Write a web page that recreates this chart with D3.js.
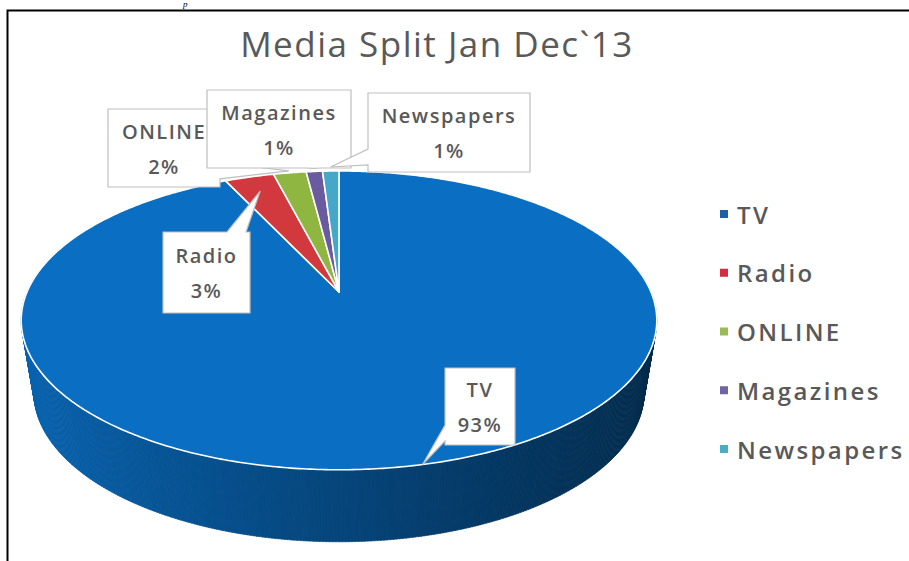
<!DOCTYPE html>
<html>
<head>
<meta charset="utf-8">
<script src="https://cdn.jsdelivr.net/npm/d3@7"></script>
<style>
  body { margin: 0; background: #fff; }
  text { font-family: "Open Sans", "DejaVu Sans", sans-serif; fill: #595959; }
</style>
</head>
<body>
<div id="chart"></div>
<script>
// data
var categories = ["TV", "Radio", "ONLINE", "Magazines", "Newspapers"];
var shares = [93, 3, 2, 1, 1];
var sliceColors = ["#0a6ec2", "#d2393f", "#8fb640", "#6a5b9f", "#45a8c9"];
var legendColors = ["#1c5fa6", "#cf2f40", "#9bbb59", "#7064a4", "#4aacc6"];
var chartTitle = "Media Split Jan Dec`13";

var width = 909, height = 561;

var svg = d3.select("#chart").append("svg")
  .attr("width", width)
  .attr("height", height);

// frame from the page the chart was cut out of
svg.append("text")
  .attr("x", 183).attr("y", 7)
  .style("font-family", "Liberation Serif, serif")
  .style("font-style", "italic")
  .style("font-size", "9px")
  .style("fill", "#000")
  .text("p");
svg.append("path")
  .attr("d", "M7.5,561 V10.5 H909")
  .attr("fill", "none")
  .attr("stroke", "#000")
  .attr("stroke-width", 2);

// title
svg.append("text")
  .attr("x", 437).attr("y", 57)
  .attr("text-anchor", "middle")
  .style("font-size", "35px")
  .style("font-weight", 500)
  .style("letter-spacing", "1.5px")
  .text(chartTitle);

// 3d pie with a bit of perspective
var cx = 339, cy = 292, A = 312, B = 144, k = 0.19;
var wall = 72, shrink = 0.96;

function pt(a, r) {
  var z = r * Math.cos(a), w = 1 + k * z;
  return [cx + A * r * Math.sin(a) / w, cy - B * z / w];
}
function low(a) {
  var p = pt(a, 1);
  return [cx + (p[0] - cx) * shrink, p[1] + wall];
}

var pie = d3.pie().sort(null).value(d => d)(shares);
var line = d3.line();

function sliceAt(a) {
  a = (a + 2 * Math.PI) % (2 * Math.PI);
  for (var i = 0; i < pie.length; i++) {
    if (a >= pie[i].startAngle && a <= pie[i].endAngle) return i;
  }
  return 0;
}

// side wall, drawn as thin strips
var step = Math.PI / 360;
var strips = d3.range(Math.PI / 2 - 0.35, 3 * Math.PI / 2 + 0.35, step);
var wallG = svg.append("g");
strips.forEach(function(a0) {
  var a1 = a0 + step * 1.2;
  var t = (1 + Math.sin(a0)) / 2;
  var base = d3.color(sliceColors[sliceAt(a0)]);
  var c = base.darker(0.3 + 2.4 * Math.pow(t, 1.3)).formatHex();
  wallG.append("path")
    .attr("d", line([pt(a0, 1), pt(a1, 1), low(a1), low(a0)]) + "Z")
    .attr("fill", c)
    .attr("stroke", c)
    .attr("stroke-width", 0.6);
});

// top face slices
var topG = svg.append("g");
topG.selectAll("path")
  .data(pie)
  .enter()
  .append("path")
  .attr("d", function(d) {
    var n = Math.max(2, Math.ceil((d.endAngle - d.startAngle) / 0.01));
    var pts = [[cx, cy]];
    d3.range(n + 1).forEach(function(i) {
      pts.push(pt(d.startAngle + (d.endAngle - d.startAngle) * i / n, 1));
    });
    return line(pts) + "Z";
  })
  .attr("fill", (d, i) => sliceColors[i])
  .attr("stroke", "#fff")
  .attr("stroke-width", 1.6)
  .attr("stroke-linejoin", "round");

// callout labels
var callouts = {
  "ONLINE":     { x: 108, y: 109, w: 112, h: 78, side: "right",  r: 1.02 },
  "Magazines":  { x: 207, y: 90,  w: 144, h: 78, side: "bottom", r: 1.03 },
  "Newspapers": { x: 368, y: 93,  w: 162, h: 79, side: "left",   r: 1.04 },
  "Radio":      { x: 163, y: 232, w: 87,  h: 81, side: "top",    r: 0.86 },
  "TV":         { x: 445, y: 368, w: 70,  h: 77, side: "left",   r: 1.0 }
};
var drawOrder = ["ONLINE", "Magazines", "Newspapers", "Radio", "TV"];

function calloutPath(b, tip) {
  var x0 = b.x, y0 = b.y, x1 = b.x + b.w, y1 = b.y + b.h, hw = 8;
  var p = [[x0, y0]];
  if (b.side === "top") {
    var c = Math.max(x0 + hw + 4, Math.min(x1 - hw - 4, tip[0] - 14));
    p.push([c - hw - 3, y0], tip, [c + hw, y0]);
  }
  p.push([x1, y0]);
  if (b.side === "right") {
    var c = Math.max(y0 + hw + 4, Math.min(y1 - hw - 4, tip[1]));
    p.push([x1, c - hw], tip, [x1, c + hw]);
  }
  p.push([x1, y1]);
  if (b.side === "bottom") {
    var c = Math.max(x0 + hw + 4, Math.min(x1 - hw - 4, tip[0]));
    p.push([c + hw, y1], tip, [c - hw, y1]);
  }
  p.push([x0, y1]);
  if (b.side === "left") {
    var c = Math.max(y0 + hw + 4, Math.min(y1 - hw - 4, tip[1] - 10));
    p.push([x0, c + hw], tip, [x0, c - hw]);
  }
  return line(p) + "Z";
}

var labelG = svg.append("g");
drawOrder.forEach(function(name) {
  var i = categories.indexOf(name);
  var d = pie[i];
  var b = callouts[name];
  var tip = pt((d.startAngle + d.endAngle) / 2, b.r);
  var g = labelG.append("g");
  g.append("path")
    .attr("d", calloutPath(b, tip))
    .attr("fill", "#fff")
    .attr("stroke", "#bfbfbf")
    .attr("stroke-width", 1.2);
  g.append("text")
    .attr("x", b.x + b.w / 2)
    .attr("y", b.y + b.h / 2 - 17)
    .attr("text-anchor", "middle")
    .attr("dominant-baseline", "central")
    .style("font-size", "20px")
    .style("font-weight", 600)
    .style("letter-spacing", "1.5px")
    .text(name);
  g.append("text")
    .attr("x", b.x + b.w / 2)
    .attr("y", b.y + b.h / 2 + 18)
    .attr("text-anchor", "middle")
    .attr("dominant-baseline", "central")
    .style("font-size", "20px")
    .style("font-weight", 600)
    .style("letter-spacing", "1.5px")
    .text(shares[i] + "%");
});

// legend
var legendY = d3.scalePoint().domain(categories).range([214, 449]);
var legend = svg.append("g");
legend.selectAll("rect")
  .data(categories)
  .enter()
  .append("rect")
  .attr("x", 720)
  .attr("y", d => legendY(d) - 4)
  .attr("width", 8)
  .attr("height", 8)
  .attr("fill", (d, i) => legendColors[i]);
legend.selectAll("text")
  .data(categories)
  .enter()
  .append("text")
  .attr("x", 737)
  .attr("y", d => legendY(d))
  .attr("dominant-baseline", "central")
  .style("font-size", "24px")
  .style("font-weight", 600)
  .style("letter-spacing", "2.4px")
  .text(d => d);
</script>
</body>
</html>
